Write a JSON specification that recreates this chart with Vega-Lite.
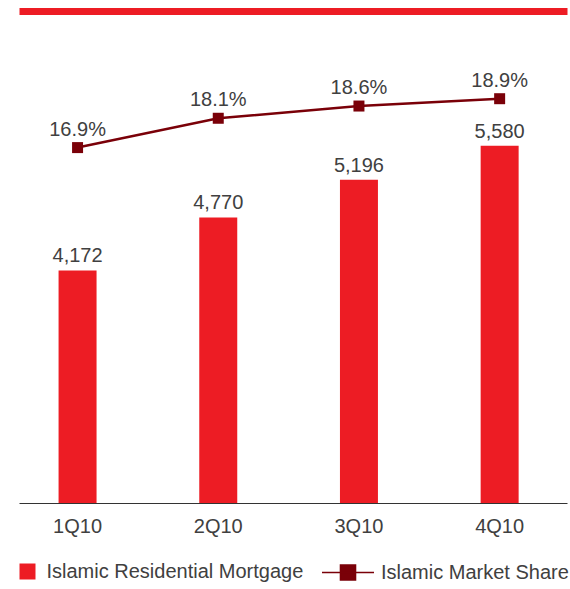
{
  "$schema": "https://vega.github.io/schema/vega-lite/v6.json",
  "width": 548,
  "height": 483,
  "autosize": "none",
  "padding": {"left": 19, "top": 20, "right": 3, "bottom": 86},
  "background": "white",
  "config": {
    "view": {"stroke": null},
    "font": "Liberation Sans",
    "text": {"font": "Liberation Sans", "fontSize": 20, "color": "#404040"}
  },
  "data": {
    "values": [
      {"quarter": "1Q10", "mortgage": 4172, "share": 0.169},
      {"quarter": "2Q10", "mortgage": 4770, "share": 0.181},
      {"quarter": "3Q10", "mortgage": 5196, "share": 0.186},
      {"quarter": "4Q10", "mortgage": 5580, "share": 0.189}
    ]
  },
  "layer": [
    {
      "encoding": {
        "x": {
          "field": "quarter",
          "type": "nominal",
          "sort": null,
          "scale": {"type": "band", "paddingInner": 0.73, "paddingOuter": 0.3125, "align": 0.45},
          "axis": {
            "orient": "bottom",
            "title": null,
            "ticks": false,
            "domainColor": "#333333",
            "domainWidth": 1,
            "labelFont": "Liberation Sans",
            "labelFontSize": 20,
            "labelColor": "#404040",
            "labelPadding": 13,
            "labelAngle": 0
          }
        },
        "y": {
          "field": "mortgage",
          "type": "quantitative",
          "scale": {"domain": [1545, 7000], "zero": false, "clamp": true, "nice": false},
          "axis": null
        }
      },
      "layer": [
        {
          "mark": {"type": "bar"},
          "encoding": {
            "color": {
              "datum": "Islamic Residential Mortgage",
              "scale": {"range": ["#ED1C24"]},
              "legend": {
                "orient": "none",
                "legendX": -1.5,
                "legendY": 541.5,
                "title": null,
                "padding": 0,
                "symbolType": "square",
                "symbolSize": 256,
                "symbolStrokeWidth": 0,
                "labelFont": "Liberation Sans",
                "labelFontSize": 20,
                "labelColor": "#404040",
                "labelOffset": 9,
                "labelLimit": 0
              }
            }
          }
        },
        {
          "mark": {"type": "text", "dy": -8, "baseline": "alphabetic", "align": "center"},
          "encoding": {
            "text": {"field": "mortgage", "type": "quantitative", "format": ","}
          }
        }
      ]
    },
    {
      "encoding": {
        "x": {
          "field": "quarter",
          "type": "nominal",
          "sort": null,
          "scale": {"type": "band", "paddingInner": 0.73, "paddingOuter": 0.3125, "align": 0.45},
          "axis": {
            "orient": "top",
            "title": null,
            "labels": false,
            "ticks": false,
            "domainColor": "#ED1C24",
            "domainWidth": 7,
            "offset": 9
          }
        },
        "y": {
          "field": "share",
          "type": "quantitative",
          "scale": {"domain": [0.0236, 0.2212], "zero": false, "nice": false},
          "axis": null
        }
      },
      "layer": [
        {
          "mark": {"type": "line", "strokeWidth": 2.5},
          "encoding": {
            "stroke": {
              "datum": "Islamic Market Share",
              "scale": {"range": ["#7A0008"]},
              "legend": {
                "orient": "none",
                "legendX": 302,
                "legendY": 525.5,
                "title": null,
                "padding": 0,
                "symbolType": "M-1,0H1M-0.29,-0.29H0.29V0.29H-0.29Z",
                "symbolSize": 2704,
                "symbolStrokeWidth": 1.5,
                "symbolFillColor": "#7A0008",
                "labelFont": "Liberation Sans",
                "labelFontSize": 20,
                "labelColor": "#404040",
                "labelOffset": 6,
                "labelLimit": 0,
                "encode": {
                  "symbols": {"update": {"fill": {"value": "#7A0008"}, "strokeWidth": {"value": 1.5}}}
                }
              }
            }
          }
        },
        {
          "mark": {"type": "point", "shape": "square", "filled": true, "size": 121, "color": "#7A0008", "opacity": 1},
          "encoding": {}
        },
        {
          "mark": {"type": "text", "dy": -12, "baseline": "alphabetic", "align": "center"},
          "encoding": {
            "text": {"field": "share", "type": "quantitative", "format": ".1%"}
          }
        }
      ]
    }
  ],
  "resolve": {"scale": {"x": "independent", "y": "independent"}}
}
